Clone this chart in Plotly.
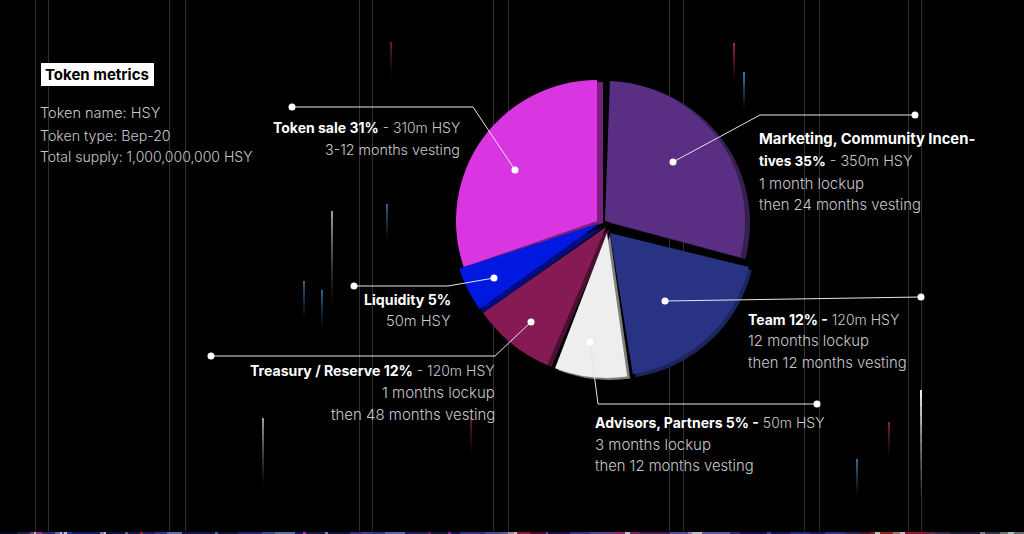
import plotly.graph_objects as go

W, H = 1024, 534
FONT = "Inter"

# ---- data ----
slice_names = ["Marketing, Community Incentives", "Team", "Advisors, Partners",
               "Treasury / Reserve", "Liquidity", "Token sale"]
# drawn angular size of each wedge (degrees)
slice_sizes = [103, 67, 29, 32, 17.5, 109]
slice_starts = [2, 103.8, 172, 203, 234.5, 251]
slice_colors = ["#5a2e82", "#293383", "#eeeeee", "#851a55", "#0018e0", "#d935e0"]
edge_colors = ["#35204f", "#1d2560", "#808080", "#4a1034", "#000c80", "#7a1f80"]
# wedge centre / radius / extrusion
slice_cx = [605, 610, 607, 606, 600, 597]
slice_cy = [221, 233, 233, 227, 223, 221]
slice_r = [140, 143, 145, 150, 148, 141]
edge_dx = [5, 3, 3, 4, 4, 6]
edge_dy = [2, 3, 2, 2, 4, 2]

leaders = [
    [(292, 107), (473, 107), (515, 170)],
    [(915, 115), (760, 115), (673, 162)],
    [(921, 297), (665, 301)],
    [(817, 404), (598, 404), (590, 342)],
    [(211, 356), (495, 356), (531, 322)],
    [(354, 286), (448, 286), (494, 278)],
]

# (x, y, anchor, bold part, bold size, plain part, plain size)
text_lines = [
    (40, 113, "left", "", 14, "Token name: HSY", 14.5),
    (40, 135, "left", "", 14, "Token type: Bep-20", 14.2),
    (40, 157, "left", "", 14, "Total supply: 1,000,000,000 HSY", 14),
    (460, 127, "right", "Token sale 31%", 14, " - 310m HSY", 14),
    (460, 149, "right", "", 14, "3-12 months vesting", 14.3),
    (759, 139, "left", "Marketing, Community Incen-", 14.8, "", 14),
    (759, 161, "left", "tives 35%", 13.6, " - 350m HSY", 14.4),
    (759, 183, "left", "", 14, "1 month lockup", 15),
    (759, 205, "left", "", 14, "then 24 months vesting", 14.8),
    (748, 319, "left", "Team 12% -", 14, " 120m HSY", 14),
    (748, 341, "left", "", 14, "12 months lockup", 14.9),
    (748, 363, "left", "", 14, "then 12 months vesting", 14.8),
    (595, 422, "left", "Advisors, Partners 5% -", 14, " 50m HSY", 14),
    (595, 444, "left", "", 14, "3 months lockup", 15),
    (595, 466, "left", "", 14, "then 12 months vesting", 14.8),
    (495, 370, "right", "Treasury / Reserve 12%", 14.1, " - 120m HSY", 14),
    (495, 392, "right", "", 14, "1 months lockup", 15),
    (495, 414, "right", "", 14, "then 48 months vesting", 15),
    (451, 299, "right", "Liquidity 5%", 14.2, "", 14),
    (451, 321, "right", "", 14, "50m HSY", 14.7),
]

grid_x = [35, 48, 169, 185, 359, 372, 493, 508, 669, 683, 804, 819, 908, 921]

# x, top, bottom, colour, width
streaks = [
    (332, 211, 305, "255,255,255", 1.2),
    (387, 204, 243, "70,165,235", 1.2),
    (304, 281, 320, "70,165,235", 1.2),
    (322, 290, 330, "70,165,235", 1.2),
    (263, 418, 487, "255,255,255", 1.2),
    (471, 417, 455, "225,50,130", 1),
    (734, 43, 82, "225,40,110", 1.5),
    (744, 72, 112, "70,165,235", 1.5),
    (921, 390, 497, "255,255,255", 1.8),
    (889, 422, 460, "225,50,130", 1.2),
    (857, 459, 498, "90,180,240", 1.2),
    (391, 42, 80, "190,70,80", 1),
]

strip = [
    (0, "#08082a"), (17, "#26265e"), (30, "#7a4fa0"), (34, "#fff0ff"), (36, "#c040c0"),
    (42, "#5a2a80"), (47, "#3a3a90"), (55, "#9090d0"), (60, "#ffffff"), (62, "#4060e0"),
    (64, "#ffffff"), (67, "#3040c0"), (72, "#1a2080"), (100, "#b0a0e0"), (104, "#ffffff"),
    (106, "#151560"), (125, "#8080b0"), (128, "#1a1a60"), (140, "#e03040"), (143, "#2a2a80"),
    (155, "#4048a0"), (167, "#8090d0"), (182, "#1a1a60"), (215, "#6080c0"), (218, "#141450"),
    (238, "#303080"), (262, "#5060a8"), (275, "#8090d0"), (295, "#2a1a70"), (303, "#e040e0"),
    (306, "#2a1a60"), (325, "#a0b0e0"), (328, "#141450"), (350, "#404098"), (362, "#505aa8"),
    (372, "#3a4a9a"), (385, "#7088d0"), (405, "#2a2a70"), (428, "#a02090"), (431, "#1a1a50"),
    (448, "#c030c0"), (451, "#1a1a50"), (460, "#4040a0"), (485, "#6060b0"), (500, "#8070c0"),
    (508, "#e0b0e0"), (514, "#ffffff"), (517, "#b02060"), (530, "#601040"), (545, "#40206a"),
    (546, "#8060c0"), (548, "#301060"), (570, "#5040a0"), (590, "#7060b0"),
    (600, "#8050b0"), (615, "#c030a0"), (625, "#ffffff"), (630, "#a03090"), (640, "#602070"),
    (670, "#8060c0"), (688, "#c0a0f0"), (692, "#ffffff"), (702, "#9070d0"), (730, "#503090"),
    (740, "#201060"), (767, "#5058c0"), (771, "#1a1a60"), (790, "#3038a0"), (810, "#25206a"),
    (825, "#4040a0"), (845, "#3a2a70"), (860, "#601830"), (870, "#a02818"), (875, "#ffffff"),
    (880, "#c03020"), (893, "#d0a090"), (900, "#ffffff"), (905, "#c02040"), (925, "#803050"),
    (935, "#503060"), (950, "#302040"), (980, "#a0a0d0"), (985, "#404060"), (1000, "#80a0a0"),
    (1008, "#e0ffff"), (1014, "#809090"),
]

# ---- figure ----
def fx(x):
    return x / W

def fy(y):
    return 1 - y / H

def wedge(start, size, color, cx, cy, r):
    return go.Pie(
        values=[size, 360 - size],
        rotation=start,
        direction="clockwise",
        sort=False,
        marker=dict(colors=[color, "rgba(0,0,0,0)"], line=dict(width=0)),
        textinfo="none",
        hoverinfo="skip",
        showlegend=False,
        domain=dict(x=[fx(cx - r), fx(cx + r)], y=[fy(cy + r), fy(cy - r)]),
    )

fig = go.Figure()
for i in range(len(slice_names)):
    fig.add_trace(wedge(slice_starts[i], slice_sizes[i], edge_colors[i],
                        slice_cx[i] + edge_dx[i], slice_cy[i] + edge_dy[i], slice_r[i]))
for i in range(len(slice_names)):
    fig.add_trace(wedge(slice_starts[i], slice_sizes[i], slice_colors[i],
                        slice_cx[i], slice_cy[i], slice_r[i]))

shapes = []
for x in grid_x:
    shapes.append(dict(type="line", xref="paper", yref="paper", layer="below",
                       x0=fx(x + .5), x1=fx(x + .5), y0=fy(0), y1=fy(531),
                       line=dict(color="#303030", width=1)))
N = 12
for x, top, bottom, rgb, w in streaks:
    for k in range(N):
        a = (1 - k / N) ** 1.3
        y0 = top + (bottom - top) * k / N
        y1 = top + (bottom - top) * (k + 1) / N
        shapes.append(dict(type="line", xref="paper", yref="paper", layer="below",
                           x0=fx(x), x1=fx(x), y0=fy(y0), y1=fy(y1),
                           line=dict(color=f"rgba({rgb},{a:.2f})", width=w)))
for (x0, c), (x1, _) in zip(strip, strip[1:] + [(W, "")]):
    shapes.append(dict(type="rect", xref="paper", yref="paper", layer="below",
                       x0=fx(x0), x1=fx(x1), y0=fy(532), y1=fy(534),
                       line=dict(width=0), fillcolor=c, opacity=0.75))
shapes.append(dict(type="rect", xref="paper", yref="paper", layer="below",
                   x0=fx(41), x1=fx(154), y0=fy(86), y1=fy(63),
                   line=dict(width=0), fillcolor="#ffffff"))
for pts in leaders:
    for a, b in zip(pts, pts[1:]):
        shapes.append(dict(type="line", xref="paper", yref="paper", layer="above",
                           x0=fx(a[0]), x1=fx(b[0]), y0=fy(a[1]), y1=fy(b[1]),
                           line=dict(color="#e6e6e6", width=1)))
    for p in (pts[0], pts[-1]):
        shapes.append(dict(type="circle", xref="paper", yref="paper", layer="above",
                           x0=fx(p[0] - 3.5), x1=fx(p[0] + 3.5),
                           y0=fy(p[1] + 3.5), y1=fy(p[1] - 3.5),
                           line=dict(width=0), fillcolor="#ffffff"))

ann = [dict(x=fx(43), y=fy(74), xref="paper", yref="paper", xanchor="left", yanchor="middle",
            text="<b>Token metrics</b>", showarrow=False,
            font=dict(family=FONT, size=15, color="#000000"))]
for x, y, anchor, bold, bs, plain, ps in text_lines:
    t = ""
    if bold:
        t += f"<b>{bold}</b>"
    if plain:
        t += f"<span style='color:#c8c8c8;font-size:{ps}px;font-weight:300'>{plain}</span>"
    ann.append(dict(x=fx(x), y=fy(y), xref="paper", yref="paper", xanchor=anchor, yanchor="middle",
                    text=t, showarrow=False, borderpad=0, borderwidth=0,
                    font=dict(family=FONT, size=bs, color="#ffffff")))

fig.update_layout(
    width=W, height=H, margin=dict(l=0, r=0, t=0, b=0),
    paper_bgcolor="#000000", plot_bgcolor="#000000",
    shapes=shapes, annotations=ann,
)
fig.write_html(
    "out.html",
    config=dict(displayModeBar=False),
    post_script="document.body.style.margin='0';document.body.style.background='#000';"
                "document.documentElement.style.overflow='hidden';",
)
